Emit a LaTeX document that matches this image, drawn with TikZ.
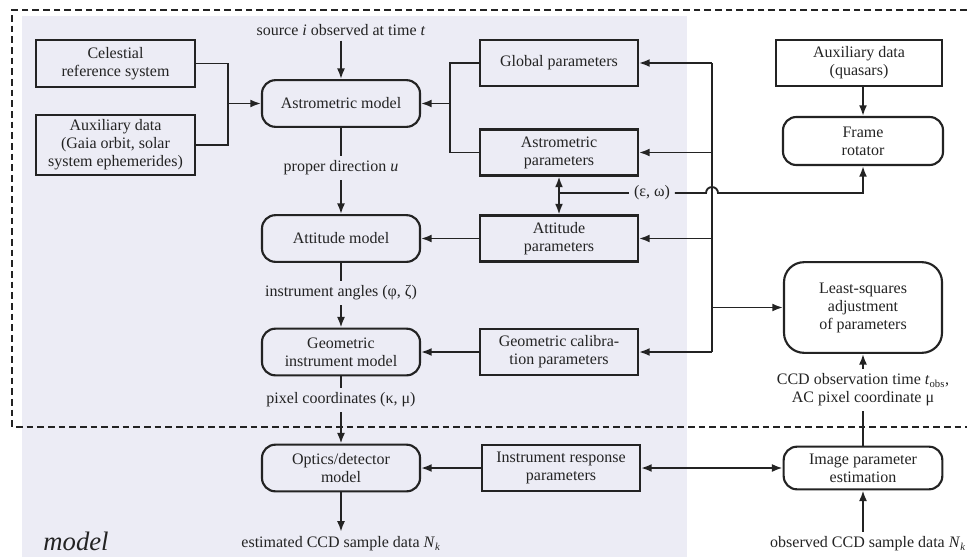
\documentclass[tikz,border=0pt]{standalone}
\usepackage{fontspec}
\setmainfont{Liberation Serif}
\usetikzlibrary{positioning}
\usetikzlibrary{arrows.meta}
\definecolor{modelbg}{RGB}{236,236,245}
\definecolor{ink}{RGB}{35,35,35}

\begin{document}
\begin{tikzpicture}[x=0.75pt,y=-0.75pt,
    font=\fontsize{12}{13.5}\selectfont,
    color=ink,
    >={Latex[length=8pt,width=6pt]},
    line width=1.4pt,
    box/.style={draw, line width=1.6pt, align=center, inner sep=2pt,
                minimum width=118.5pt, minimum height=34.5pt},
    model/.style={box, rounded corners=10pt, minimum height=35pt},
    lbl/.style={inner sep=3pt, align=center},
    frontier/.style={dash pattern=on 5pt off 3pt, line width=1.2pt}]

  \useasboundingbox (0,0) rectangle (967,557);
  \fill[modelbg] (22,16) rectangle (687,557);
  \draw[frontier] (967,10) -- (12,10) -- (12,427) -- (967,427);

  % model column
  \node[model] (astmod) at (341,103.5) {Astrometric model};
  \node[model] (attmod) at (341,238.5) {Attitude model};
  \node[model] (geomod) at (341,352) {Geometric\\instrument model};
  \node[model] (optmod) at (341,468) {Optics/detector\\model};

  % inputs on the left
  \node[box, minimum width=119pt, minimum height=35pt] (crs) at (115.5,63.5) {Celestial\\reference system};
  \node[box, minimum width=119pt, minimum height=45pt] (auxg) at (115.5,145) {Auxiliary data\\(Gaia orbit, solar\\system ephemerides)};

  % parameters
  \node[box] (globpar) at (559,63) {Global parameters};
  \node[box] (astpar) at (559,152.5) {Astrometric\\parameters};
  \node[box] (attpar) at (559,238.5) {Attitude\\parameters};
  \node[box] (geopar) at (559,352) {Geometric calibra-\\tion parameters};
  \node[box] (irpar) at (561,468) {Instrument response\\parameters};

  % right column
  \node[box, minimum width=125pt] (auxq) at (859,63) {Auxiliary data\\(quasars)};
  \node[model, minimum width=120pt, minimum height=36pt] (frame) at (863,141) {Frame\\rotator};
  \node[model, minimum height=68pt, rounded corners=15pt] (lsq) at (863,307.5) {Least-squares\\adjustment\\of parameters};
  \node[model, minimum width=119pt, minimum height=32pt] (imgest) at (863,468) {Image parameter\\estimation};

  % labels
  \node[lbl] (src) at (341,30) {source \textit{i} observed at time \textit{t}};
  \node[lbl] (propdir) at (341,168) {proper direction \textit{u}};
  \node[lbl] (instang) at (341,293) {instrument angles (φ, ζ)};
  \node[lbl] (pixco) at (341,400) {pixel coordinates (κ, μ)};
  \node[lbl] (estccd) at (341,544) {estimated CCD sample data \textit{N}\textsubscript{\textit{k}}};
  \node[lbl] (ccdobs) at (863,390) {CCD observation time \textit{t}\textsubscript{obs},\\AC pixel coordinate μ};
  \node[lbl] (obsccd) at (868,544) {observed CCD sample data \textit{N}\textsubscript{\textit{k}}};
  \node[lbl] (epsom) at (652,193) {(ε, ω)};
  \node[font=\fontsize{20}{22}\selectfont\itshape] (mdl) at (76,541) {model};

  \coordinate (jl) at (228,103.5);
  \coordinate (jr) at (450,103.5);
  \coordinate (eo) at (559,193);
  \coordinate (trunktop) at (712,63);
  \coordinate (trunkbot) at (712,352);

  % chain of models
  \draw[->] (src) -- (astmod);
  \draw (astmod) -- (propdir);
  \draw[->] (propdir) -- (attmod);
  \draw (attmod) -- (instang);
  \draw[->] (instang) -- (geomod);
  \draw (geomod) -- (pixco);
  \draw[->] (pixco) -- (optmod);
  \draw[->] (optmod) -- (estccd);

  \draw (crs.east) -| (jl);
  \draw (auxg.east) -| (jl);
  \draw[->] (jl) -- (astmod.west);
  \draw (globpar.west) -| (jr);
  \draw (astpar.west) -| (jr);
  \draw[->] (jr) -- (astmod.east);

  \draw[->] (attpar) -- (attmod);
  \draw[->] (geopar) -- (geomod);
  \draw[->] (irpar) -- (optmod);
  \draw[<->] (astpar) -- (attpar);

  % update of the parameters
  \draw (trunktop) -- (trunkbot);
  \foreach \p in {globpar,astpar,attpar,geopar} {
    \draw[->] (\p -| trunktop) -- (\p.east);
  }
  \draw[->] (lsq -| trunktop) -- (lsq.west);

  \draw (eo) -- (epsom);
  \draw[->] (epsom.east) -- (706,193) arc[start angle=180,end angle=0,radius=4.5pt]
    -- (frame.south |- eo) -- (frame.south);
  \draw[->] (auxq.south -| frame) -- (frame.north);

  \draw[<->] (irpar) -- (imgest);
  \draw[->] (obsccd.north -| imgest) -- (imgest.south);
  \draw (imgest) -- (ccdobs);
  \draw[->] (ccdobs) -- (lsq);

\end{tikzpicture}
\end{document}
